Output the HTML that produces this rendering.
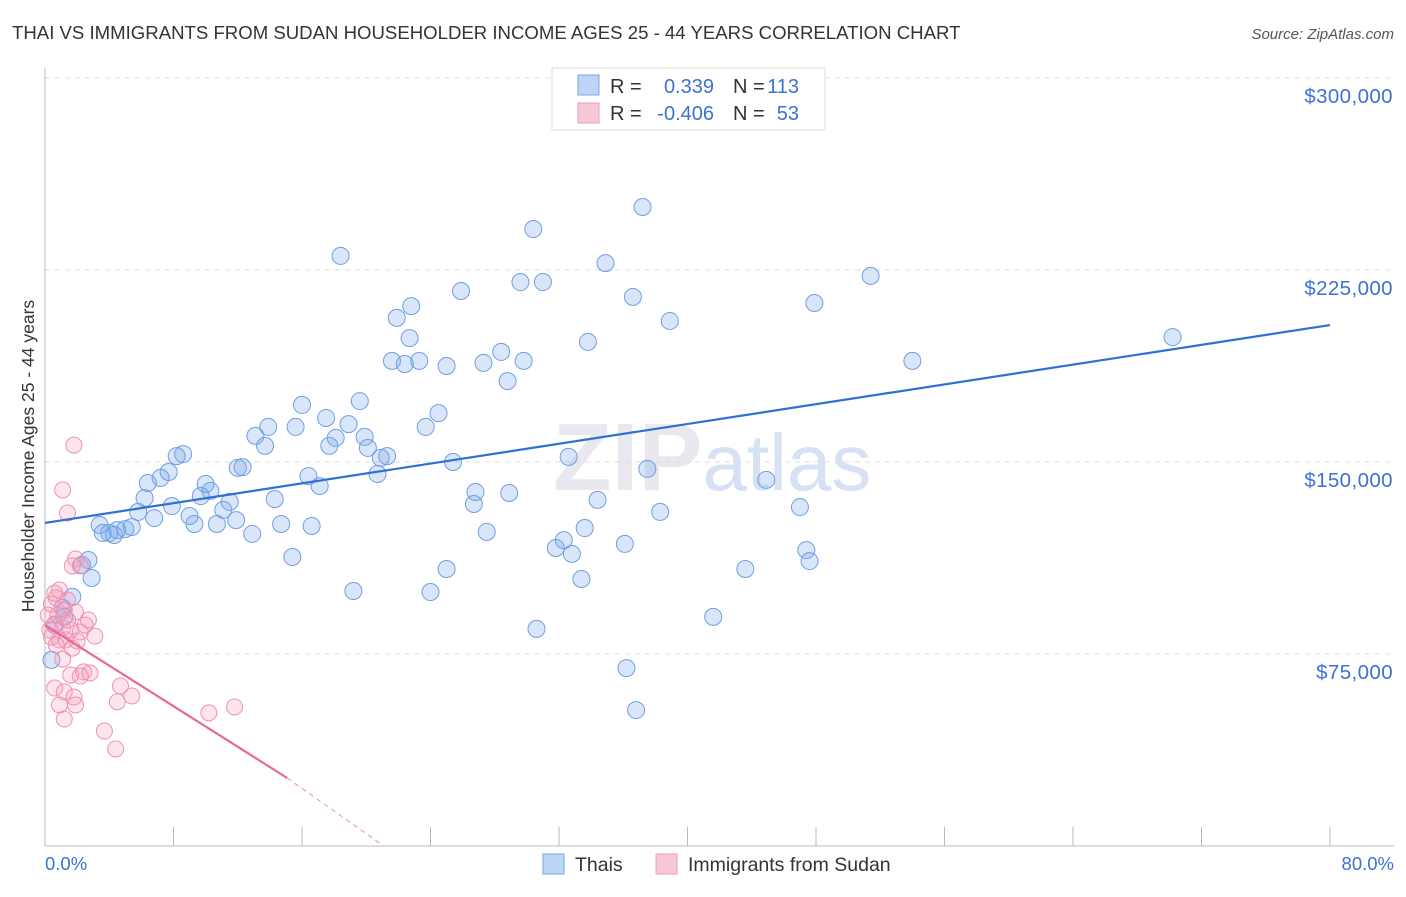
<!DOCTYPE html>
<html><head><meta charset="utf-8"><style>
body{margin:0;background:#fff;font-family:"Liberation Sans",sans-serif;}
svg text{font-family:"Liberation Sans",sans-serif;}
</style></head><body>
<svg id="chart" width="1406" height="892" xmlns="http://www.w3.org/2000/svg">
<text x="12" y="39" font-size="18.6" fill="#333">THAI VS IMMIGRANTS FROM SUDAN HOUSEHOLDER INCOME AGES 25 - 44 YEARS CORRELATION CHART</text>
<text x="1394" y="39" font-size="15" fill="#555" text-anchor="end" font-style="italic">Source: ZipAtlas.com</text>
<text x="553" y="490" font-size="96" fill="#e8e8ee" font-family="Liberation Serif" font-weight="bold">ZIP<tspan fill="#d6e2f3" font-family="Liberation Sans" font-weight="normal" font-size="80">atlas</tspan></text>
<g id="grid"></g>
<g id="axes"></g>
<g id="marks"></g>
<text transform="translate(34,456) rotate(-90)" font-size="17.5" fill="#333" text-anchor="middle">Householder Income Ages 25 - 44 years</text>
<text x="45" y="870" font-size="18.5" fill="#3b73d1">0.0%</text>
<text x="1394" y="870" font-size="18.5" fill="#3b73d1" text-anchor="end">80.0%</text>
<g>
<rect x="552" y="68" width="273" height="62" fill="#fff" stroke="#ddd"/>
<rect x="578" y="75" width="21" height="20" fill="#bcd4f5" stroke="#7aa6e6"/>
<rect x="578" y="103" width="21" height="20" fill="#f9c8d8" stroke="#f09ab8"/>
<text x="610" y="93" font-size="20" fill="#333">R = </text><text x="714" y="93" font-size="20" fill="#3b73d1" text-anchor="end">0.339</text>
<text x="733" y="93" font-size="20" fill="#333">N = </text><text x="799" y="93" font-size="20" fill="#3b73d1" text-anchor="end">113</text>
<text x="610" y="120" font-size="20" fill="#333">R = </text><text x="714" y="120" font-size="20" fill="#3b73d1" text-anchor="end">-0.406</text>
<text x="733" y="120" font-size="20" fill="#333">N = </text><text x="799" y="120" font-size="20" fill="#3b73d1" text-anchor="end">53</text>
</g>
<g>
<rect x="543" y="854" width="21" height="20" fill="#bcd4f5" stroke="#7aa6e6"/>
<text x="575" y="871" font-size="19.5" fill="#333">Thais</text>
<rect x="656" y="854" width="21" height="20" fill="#f9c8d8" stroke="#f09ab8"/>
<text x="688" y="871" font-size="19.5" fill="#333">Immigrants from Sudan</text>
</g>
</svg>
<script>
const yTicks=[75000,150000,225000,300000];
const yTickLabels=["$75,000","$150,000","$225,000","$300,000"];
const xTicks=[0,8,16,24,32,40,48,56,64,72,80];
const thaiX=[37.2,30.4,18.4,34.9,51.4,29.6,31.0,25.9,36.6,47.9,22.8,21.9,38.9,22.7,33.8,70.2,28.4,21.6,22.4,23.3,25.0,27.3,29.8,54.0,28.8,19.6,16.0,24.5,17.5,18.9,13.9,15.6,23.7,13.1,18.1,17.7,19.9,20.1,13.7,21.3,20.9,25.4,8.6,8.2,7.7,37.5,12.3,12.0,20.7,16.4,32.6,7.2,6.4,17.1,44.9,10.0,10.3,9.7,26.8,28.9,6.2,14.3,11.5,26.7,34.4,7.9,11.1,5.8,38.3,47.0,6.8,9.0,11.9,3.4,9.3,10.7,14.7,16.6,27.5,3.6,4.0,4.3,4.5,5.0,5.4,12.9,33.6,32.3,36.1,31.8,32.8,47.4,15.4,2.7,2.3,47.6,25.0,43.6,2.9,33.4,19.2,24.0,1.7,1.1,41.6,30.6,1.2,0.6,36.2,36.8,0.4];
const thaiY=[249.6,241.0,230.5,227.7,222.7,220.3,220.3,216.8,214.5,212.1,210.9,206.3,205.1,198.4,196.9,198.8,193.0,189.5,188.3,189.5,187.5,188.7,189.5,189.5,181.6,173.8,172.3,169.1,167.2,164.8,163.7,163.7,163.7,160.2,159.4,156.3,159.8,155.5,156.3,152.3,151.6,150.0,153.1,152.3,146.1,147.3,148.0,147.7,145.3,144.5,152.0,143.8,141.8,140.6,143.0,141.4,138.7,136.7,138.3,137.9,135.9,135.5,134.4,133.6,135.2,132.8,131.3,130.5,130.5,132.4,128.1,128.9,127.3,125.4,125.8,125.8,125.8,125.0,122.7,122.3,122.3,121.5,123.4,123.8,124.6,121.9,124.2,119.5,118.0,116.4,114.1,115.6,112.9,111.7,109.8,111.3,108.2,108.2,104.7,104.3,99.6,99.2,97.3,93.0,89.5,84.8,89.5,86.3,69.5,53.1,72.7];
const sudanX=[1.8,1.1,1.4,1.9,1.7,2.2,0.9,0.6,1.4,0.4,1.2,1.9,0.8,2.7,0.6,1.1,1.6,2.2,3.1,0.4,0.9,1.3,2.0,0.7,1.7,1.1,2.4,1.6,2.2,2.8,0.6,4.7,1.2,1.8,5.4,4.5,0.9,1.9,11.8,10.2,1.2,3.7,4.4,0.2,0.3,2.5,1.4,0.7];
const sudanY=[156.6,139.1,130.1,112.1,109.4,109.4,100.0,98.8,96.1,94.5,92.2,91.4,90.2,88.3,86.7,85.2,84.4,83.6,82.0,81.6,80.5,80.5,80.1,78.5,77.3,73.0,68.0,66.8,66.4,67.6,61.7,62.5,60.2,58.2,58.6,56.3,55.1,55.1,54.3,52.0,49.6,44.9,37.9,90.2,84.4,86.3,88.3,96.9];
const thaiTrendX=[0,80];
const thaiTrendY=[126.2,203.5];
const sudanTrendX=[0,15.07];
const sudanTrendY=[86.3,26.6];
const sudanDashX=[15.07,21.0];
const sudanDashY=[26.6,0.4];

const NS="http://www.w3.org/2000/svg";
const X0=45,X1=1330,Y0=846,YTOP=78;
function sx(v){return X0+(v/80)*(X1-X0);}
function sy(v){return Y0-(v/300)*(Y0-YTOP);}
function mk(tag,attrs,parent){const e=document.createElementNS(NS,tag);for(const k in attrs)e.setAttribute(k,attrs[k]);parent.appendChild(e);return e;}
const grid=document.getElementById('grid'),axes=document.getElementById('axes'),marks=document.getElementById('marks');
yTicks.forEach((t,i)=>{
  const y=sy(t/1000);
  const l=mk('line',{x1:X0,x2:1394,y1:y,y2:y,stroke:'#ddd','stroke-dasharray':'5,5'},grid);
  
  
  const tx=mk('text',{x:1393,y:y+25,'font-size':20.5,fill:'#3b73d1','text-anchor':'end','letter-spacing':'0.4'},axes);
  tx.textContent=yTickLabels[i];
  
  
});
const ya=mk('line',{x1:X0,x2:X0,y1:68,y2:Y0,stroke:'#bbb'},axes);


const xa=mk('line',{x1:X0,x2:1394,y1:Y0,y2:Y0,stroke:'#bbb'},axes);


xTicks.forEach(t=>{
  const x=sx(t);
  const l=mk('line',{x1:x,x2:x,y1:Y0,y2:Y0-19,stroke:'#bbb'},axes);
  
  
});
thaiX.forEach((v,i)=>{
  const c=mk('circle',{cx:sx(v),cy:sy(thaiY[i]),r:8.5,fill:'rgba(120,165,235,0.28)',stroke:'#6f9fe0','stroke-width':1},marks);
  
  
});
sudanX.forEach((v,i)=>{
  const c=mk('circle',{cx:sx(v),cy:sy(sudanY[i]),r:8,fill:'rgba(245,150,185,0.25)',stroke:'#f090b5','stroke-width':1},marks);
  
  
});
const t1=mk('line',{x1:sx(thaiTrendX[0]),y1:sy(thaiTrendY[0]),x2:sx(thaiTrendX[1]),y2:sy(thaiTrendY[1]),stroke:'#2f6fd6','stroke-width':2.2},marks);


const t2=mk('line',{x1:sx(sudanTrendX[0]),y1:sy(sudanTrendY[0]),x2:sx(sudanTrendX[1]),y2:sy(sudanTrendY[1]),stroke:'#e8689a','stroke-width':2.2},marks);


const t3=mk('line',{x1:sx(sudanDashX[0]),y1:sy(sudanDashY[0]),x2:sx(sudanDashX[1]),y2:sy(sudanDashY[1]),stroke:'#f0a0bf','stroke-width':1.2,'stroke-dasharray':'5,4'},marks);


</script>
</body></html>
